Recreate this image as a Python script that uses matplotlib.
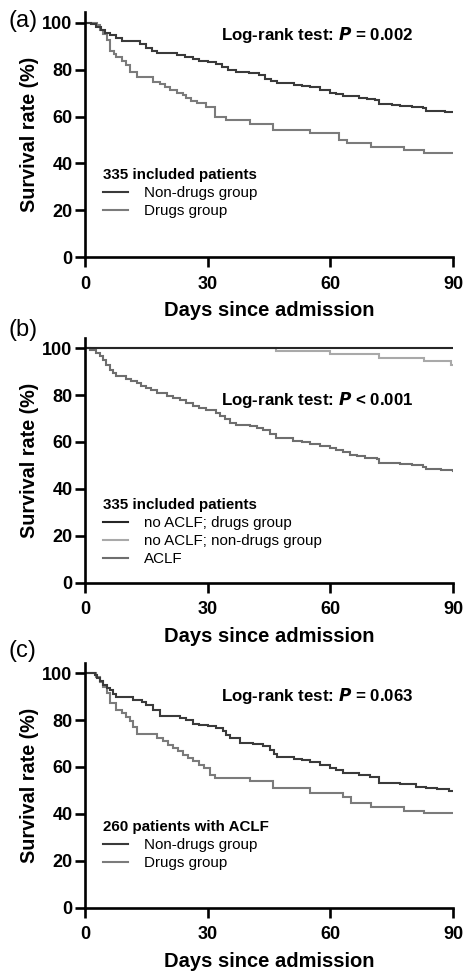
import matplotlib
matplotlib.use("Agg")
import matplotlib.pyplot as plt
from matplotlib.lines import Line2D

plt.rcParams['font.family'] = ['Liberation Sans', 'DejaVu Sans']

# ---------------- data ----------------
ticks_x = [0, 30, 60, 90]
ticks_y = [0, 20, 40, 60, 80, 100]
x_label = "Days since admission"
y_label = "Survival rate (%)"

# Panel (a)
a_nondrug_t = [0, 1.5, 2.8, 4.0, 5.0, 6.0, 7.5, 9.0, 12.5, 13.5, 15.0, 16.5, 17.5, 22.5, 24.5, 26.5, 28.0, 30.0,
               32.0, 33.5, 35.0, 37.0, 40.0, 42.5, 44.0, 45.5, 47.0, 51.0, 53.0, 55.0, 57.5, 60.0, 61.5, 63.0,
               67.0, 69.0, 71.0, 72.0, 75.0, 77.0, 80.0, 82.6, 83.5, 88.0, 90.0]
a_nondrug_v = [100, 99.3, 98.0, 96.7, 95.5, 94.7, 93.5, 92.3, 92.0, 90.8, 89.2, 88.0, 87.0, 86.3, 85.5, 84.4, 83.8, 83.4,
               82.5, 81.2, 80.0, 79.0, 78.4, 77.5, 76.2, 75.2, 74.2, 73.6, 73.0, 72.4, 71.2, 70.2, 69.5, 68.8,
               67.8, 67.3, 67.0, 65.3, 64.9, 64.5, 64.0, 63.5, 62.5, 62.0, 62.0]
a_drug_t = [0, 3.0, 3.7, 4.5, 5.3, 6.0, 7.0, 7.7, 9.0, 10.0, 11.0, 12.6, 16.7, 18.3, 19.5, 20.8, 22.4, 24.0, 24.8,
            26.0, 27.3, 29.7, 31.8, 34.6, 40.3, 46.0, 55.0, 62.0, 64.0, 64.7, 70.0, 78.0, 83.0, 90.0]
a_drug_v = [100, 99.0, 97.0, 95.0, 92.6, 88.0, 86.8, 85.5, 83.5, 82.0, 79.0, 76.7, 74.9, 74.0, 72.4, 71.2, 70.0, 69.0,
            67.8, 66.5, 65.6, 64.0, 60.0, 58.5, 56.8, 54.3, 52.8, 50.0, 48.6, 48.6, 47.2, 45.7, 44.3, 44.3]

# Panel (b)
b_noaclf_drug_t = [0, 90.0]
b_noaclf_drug_v = [100, 100]
b_noaclf_nondrug_t = [0, 46.8, 60.0, 72.0, 83.0, 89.6, 90.0]
b_noaclf_nondrug_v = [100, 98.9, 97.4, 95.7, 94.3, 92.9, 92.9]
b_aclf_t = [0, 1.2, 2.8, 3.6, 4.5, 5.2, 6.0, 6.8, 7.7, 10.0, 11.2, 12.6, 13.8, 15.0, 16.2, 17.5, 20.0, 21.6, 23.2,
            24.8, 26.5, 28.0, 29.7, 32.0, 33.0, 34.2, 35.4, 37.0, 40.3, 42.0, 43.6, 45.2, 46.8, 50.9, 53.0, 55.0,
            57.5, 60.0, 61.5, 63.0, 64.7, 66.4, 68.5, 71.3, 72.0, 74.5, 77.0, 80.0, 82.6, 83.5, 87.0, 90.0]
b_aclf_v = [100, 99.3, 97.9, 96.5, 95.0, 93.0, 90.8, 89.5, 88.0, 86.9, 86.0, 85.2, 84.0, 83.0, 82.0, 80.9, 79.5, 78.8, 78.0,
            76.8, 75.5, 74.6, 73.8, 72.3, 71.2, 69.6, 68.0, 67.2, 66.7, 65.9, 65.1, 63.4, 61.6, 60.6, 60.0, 59.2,
            58.3, 57.3, 56.4, 55.5, 54.6, 53.8, 53.2, 52.6, 51.2, 50.9, 50.5, 50.0, 49.5, 48.4, 48.0, 47.8]

# Panel (c)
c_nondrug_t = [0, 2.4, 3.0, 3.7, 4.5, 5.3, 6.0, 6.8, 7.7, 11.8, 12.6, 14.0, 15.0, 16.7, 18.3, 23.2, 24.8, 26.5, 28.0,
               30.0, 32.0, 33.8, 34.6, 35.4, 38.0, 41.0, 43.6, 45.2, 46.2, 47.0, 51.0, 53.0, 55.0, 57.5, 60.0,
               61.5, 63.0, 67.0, 69.6, 72.0, 77.0, 81.0, 83.5, 86.0, 89.0, 90.0]
c_nondrug_v = [100, 99.0, 97.9, 96.5, 95.0, 93.8, 92.9, 91.2, 89.8, 88.6, 88.6, 87.5, 86.5, 84.4, 81.8, 80.9, 80.0, 78.5,
               78.0, 77.4, 76.5, 75.4, 73.8, 72.3, 70.4, 69.6, 69.0, 67.3, 65.5, 64.4, 63.4, 62.8, 62.3, 61.0, 59.7,
               58.6, 57.6, 56.6, 55.9, 53.3, 52.6, 51.6, 50.9, 50.5, 49.9, 49.9]
c_drug_t = [0, 2.8, 3.7, 4.5, 5.3, 6.0, 7.7, 9.0, 10.0, 11.0, 11.8, 12.6, 17.5, 19.0, 20.3, 21.6, 22.8, 24.0, 25.3,
            26.5, 27.8, 29.0, 30.5, 31.8, 34.6, 40.3, 46.0, 55.0, 63.0, 65.0, 70.0, 78.0, 83.0, 90.0]
c_drug_v = [100, 98.5, 96.4, 94.0, 91.5, 87.2, 84.4, 83.0, 81.5, 79.5, 77.2, 74.1, 72.3, 71.0, 69.4, 68.0, 66.6, 65.2,
            63.8, 62.5, 60.9, 59.5, 56.6, 55.2, 55.2, 53.8, 50.9, 49.1, 47.0, 44.8, 43.1, 41.4, 40.3, 40.3]

panels = [
    dict(letter="(a)", letter_y=21.5, ptext="Log-rank test: $\\boldsymbol{P}$ = 0.002", ptext_y=94.8,
         title="335 included patients", leg_y=0.262,
         series=[(a_nondrug_t, a_nondrug_v, "#3a3a3a", "Non-drugs group"),
                 (a_drug_t, a_drug_v, "#7b7b7b", "Drugs group")]),
    dict(letter="(b)", letter_y=330, ptext="Log-rank test: $\\boldsymbol{P}$ < 0.001", ptext_y=77.9,
         title="335 included patients", leg_y=0.206,
         series=[(b_noaclf_drug_t, b_noaclf_drug_v, "#262626", "no ACLF; drugs group"),
                 (b_noaclf_nondrug_t, b_noaclf_nondrug_v, "#a9a9a9", "no ACLF; non-drugs group"),
                 (b_aclf_t, b_aclf_v, "#6e6e6e", "ACLF")]),
    dict(letter="(c)", letter_y=651, ptext="Log-rank test: $\\boldsymbol{P}$ = 0.063", ptext_y=90.2,
         title="260 patients with ACLF", leg_y=0.256,
         series=[(c_nondrug_t, c_nondrug_v, "#3a3a3a", "Non-drugs group"),
                 (c_drug_t, c_drug_v, "#7b7b7b", "Drugs group")]),
]

W, H = 464, 971
fig = plt.figure(figsize=(W / 100, H / 100), dpi=100)
bottoms_px = [257.3, 582.7, 907.7]
left_px, right_px = 85, 453
ytop = 104.5
h_px = 234.6 * ytop / 100

for p, bpx in zip(panels, bottoms_px):
    ax = fig.add_axes([left_px / W, 1 - bpx / H, (right_px - left_px) / W, h_px / H])
    for t, v, col, lab in reversed(p["series"]):
        ax.step(t, v, where="post", color=col, lw=1.5, solid_joinstyle="miter")
    ax.set_xlim(0, 90)
    ax.set_ylim(0, ytop)
    ax.set_xticks(ticks_x)
    ax.set_yticks(ticks_y)
    for s in ["top", "right"]:
        ax.spines[s].set_visible(False)
    for s in ["left", "bottom"]:
        ax.spines[s].set_linewidth(1.9)
    ax.tick_params(direction="out", length=7, width=1.9, labelsize=13)
    ax.tick_params(axis="x", pad=6.5)
    ax.tick_params(axis="y", pad=2)
    for lab in ax.get_xticklabels() + ax.get_yticklabels():
        lab.set_fontweight("bold")
    ax.set_xlabel(x_label, fontsize=14.5, fontweight="bold", labelpad=6)
    ax.set_ylabel(y_label, fontsize=14.2, fontweight="bold", labelpad=2)
    ax.text(56.9, p["ptext_y"], p["ptext"], fontsize=12.2, fontweight="bold",
            ha="center", va="center")
    handles = [Line2D([], [], color=c, lw=1.5) for _, _, c, _ in p["series"]]
    labels = [l for _, _, _, l in p["series"]]
    leg = ax.legend(handles, labels, title=p["title"], loc="center left",
                    bbox_to_anchor=(0.049, p["leg_y"]),
                    frameon=False, fontsize=10.9, title_fontproperties={"weight": "bold", "size": 10.9},
                    handlelength=1.65, handletextpad=1.05, labelspacing=0.25, borderpad=0, borderaxespad=0)
    leg._legend_box.align = "left"
    leg._legend_box.sep = 3
    fig.text(9 / W, 1 - p["letter_y"] / H, p["letter"], fontsize=17, ha="left", va="center")

fig.savefig("out.png", dpi=100)
